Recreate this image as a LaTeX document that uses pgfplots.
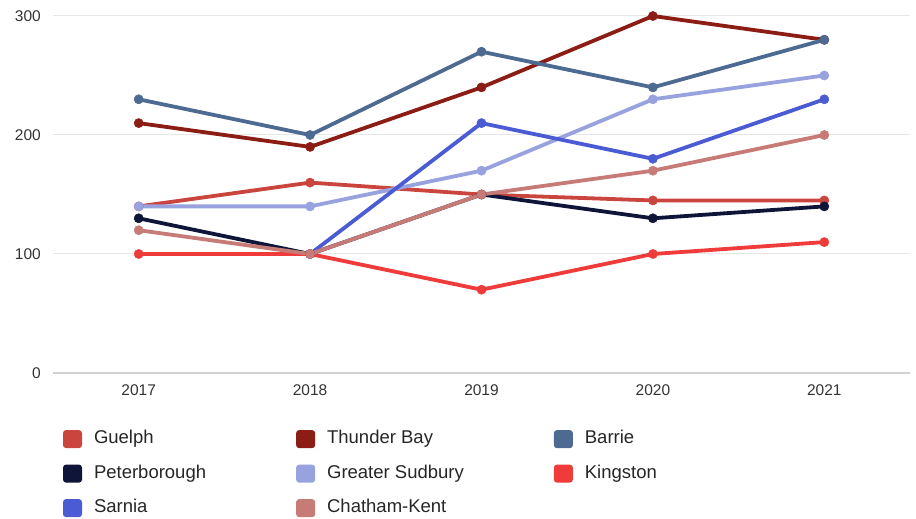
\documentclass[border=0pt]{standalone}
\usepackage{fontspec}
\setmainfont{Liberation Sans}
\usepackage{pgfplots}
\pgfplotsset{compat=1.18}

\definecolor{cGuelph}{HTML}{C9453D}
\definecolor{cThunder}{HTML}{8C1D15}
\definecolor{cBarrie}{HTML}{4D6A92}
\definecolor{cPeter}{HTML}{0E1538}
\definecolor{cSudbury}{HTML}{97A2DE}
\definecolor{cKingston}{HTML}{F03B3B}
\definecolor{cSarnia}{HTML}{4A5BD4}
\definecolor{cChatham}{HTML}{C67B77}
\definecolor{gridgray}{HTML}{E6E6E6}
\definecolor{basegray}{HTML}{D2D2D2}

\begin{document}
\begin{tikzpicture}[x=1pt,y=1pt]
\path[use as bounding box] (-53,-146) rectangle (863,373);
\begin{axis}[
  at={(0,0)}, anchor=south west,
  scale only axis, width=857pt, height=357pt,
  xmin=-0.5, xmax=4.5, ymin=0, ymax=300,
  xtick={0,1,2,3,4},
  xticklabels={2017,2018,2019,2020,2021},
  ytick={100,200,300},
  extra y ticks={0},
  extra y tick style={ymajorgrids=true, major grid style={line width=2pt, color=basegray}},
  axis line style={draw=none},
  major tick length=0pt,
  ymajorgrids,
  major grid style={line width=1pt, color=gridgray},
  tick label style={font=\fontsize{15.5}{18}\selectfont, text=black!80},
  yticklabel style={inner sep=0pt, xshift=-12pt},
  xticklabel style={inner sep=0pt, yshift=-11pt},
  /pgf/number format/assume math mode=true,
  clip=false,
  legend columns=3,
  legend cell align=left,
  legend style={
    at={(axis description cs:0.01167,-0.1600)}, anchor=north west,
    draw=none, fill=none, inner sep=0pt, outer sep=0pt,
    font=\fontsize{18.5}{22}\selectfont, text=black!85,
    row sep=16.5pt,
    nodes={inner sep=0pt, anchor=west, text height=13pt, text depth=4pt},
    /tikz/every odd column/.append style={column sep=12pt},
    /tikz/every even column/.append style={column sep=90pt},
  },
  legend image code/.code={\fill[#1, draw=none, rounded corners=3pt] (0pt,-9pt) rectangle (19pt,9pt);},
  every axis plot/.append style={line width=3.8pt, line join=round, mark=*, mark size=4.6pt, mark options={line width=0.5pt}},
]
\addplot[color=cGuelph] coordinates {(0,140) (1,160) (2,150) (3,145) (4,145)};
\addlegendentry{Guelph}
\addplot[color=cThunder] coordinates {(0,210) (1,190) (2,240) (3,300) (4,280)};
\addlegendentry{Thunder Bay}
\addplot[color=cBarrie] coordinates {(0,230) (1,200) (2,270) (3,240) (4,280)};
\addlegendentry{Barrie}
\addplot[color=cPeter] coordinates {(0,130) (1,100) (2,150) (3,130) (4,140)};
\addlegendentry{Peterborough}
\addplot[color=cSudbury] coordinates {(0,140) (1,140) (2,170) (3,230) (4,250)};
\addlegendentry{Greater Sudbury}
\addplot[color=cKingston] coordinates {(0,100) (1,100) (2,70) (3,100) (4,110)};
\addlegendentry{Kingston}
\addplot[color=cSarnia] coordinates {(1,100) (2,210) (3,180) (4,230)};
\addlegendentry{Sarnia}
\addplot[color=cChatham] coordinates {(0,120) (1,100) (2,150) (3,170) (4,200)};
\addlegendentry{Chatham-Kent}
\end{axis}
\end{tikzpicture}
\end{document}
